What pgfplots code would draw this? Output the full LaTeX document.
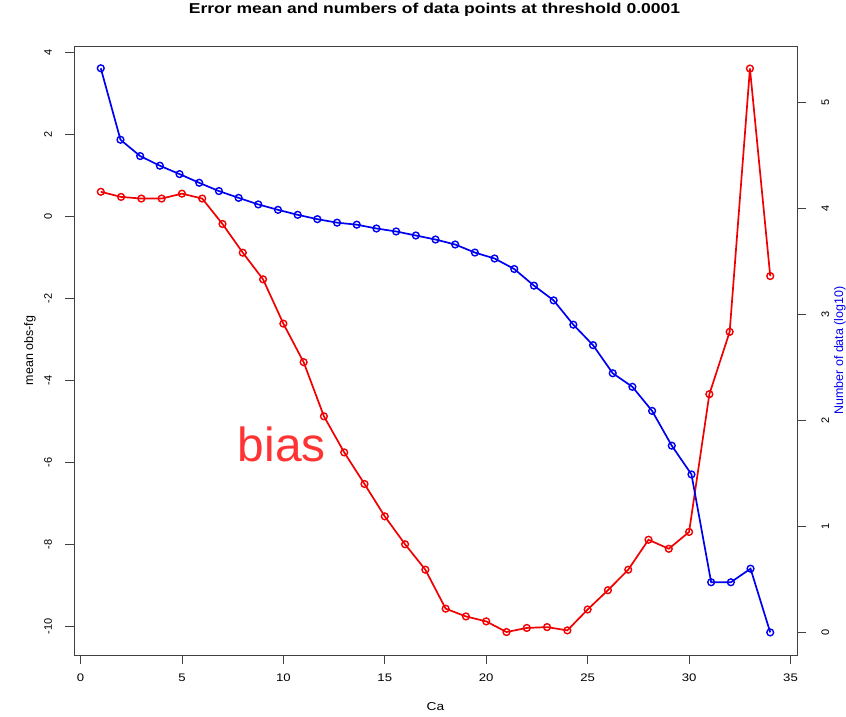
\documentclass[border=0pt]{standalone}
\usepackage{pgfplots}
\pgfplotsset{compat=1.18}
\usepackage{fontspec}
\setmainfont{Liberation Sans}
\newfontfamily\widefont{Liberation Sans}[FakeStretch=1.2]
\newfontfamily\widebold{Liberation Sans Bold}[FakeStretch=1.22]
\definecolor{rred}{HTML}{F00000}
\definecolor{bblue}{HTML}{0000F0}
\definecolor{biasred}{HTML}{FF3333}
\begin{document}
\begin{tikzpicture}
\path[use as bounding box] (-74bp,-62bp) rectangle (772bp,655bp);
\begin{axis}[
  at={(0,0)}, anchor=south west,
  scale only axis, width=723bp, height=609bp,
  xmin=-0.32, xmax=35.32, ymin=-10.7, ymax=4.15,
  xtick={0,5,...,35}, ytick={-10,-8,...,4},
  xtick pos=lower, ytick pos=left, tick align=outside,
  major tick length=9bp,
  axis line style={black!75, line width=0.8bp},
  tick style={black!75, line width=0.8bp},
  xticklabel style={font=\widefont\fontsize{11}{13}\selectfont},
  xticklabel shift=6.3bp,
  yticklabel style={rotate=90, anchor=south, font=\fontsize{11}{13}\selectfont},
  yticklabel shift=9.6bp,
  /pgf/number format/assume math mode=true,
  title={Error mean and numbers of data points at threshold 0.0001},
  title style={at={(axis description cs:0.4986,1.0438)}, anchor=base, font=\widebold\fontsize{14.4}{16}\selectfont},
  xlabel={Ca},
  xlabel style={at={(axis description cs:0.5,-0.0854)}, anchor=center, font=\widefont\fontsize{11.5}{14}\selectfont},
  ylabel={mean obs-fg},
  ylabel style={at={(axis description cs:-0.061,0.5)}, anchor=center, rotate=0, font=\fontsize{12.5}{14}\selectfont},
]
\addplot[rred, line width=1.7bp, mark=o, mark size=3.4bp, mark options={line width=1.4bp}] coordinates {
(1,0.595) (2,0.47) (3,0.43) (4,0.43) (5,0.55) (6,0.43) (7,-0.19) (8,-0.89)
(9,-1.54) (10,-2.62) (11,-3.56) (12,-4.88) (13,-5.76) (14,-6.53) (15,-7.32)
(16,-8.00) (17,-8.62) (18,-9.57) (19,-9.76) (20,-9.88) (21,-10.14) (22,-10.04)
(23,-10.02) (24,-10.10) (25,-9.59) (26,-9.12) (27,-8.62) (28,-7.89) (29,-8.11)
(30,-7.70) (31,-4.34) (32,-2.82) (33,3.60) (34,-1.46)
};
\node[text=biasred, inner sep=0pt, anchor=center, font=\fontsize{48}{50}\selectfont] at (axis cs:9.92,-5.556) {bias};
\end{axis}
\begin{axis}[
  at={(0,0)}, anchor=south west,
  scale only axis, width=723bp, height=609bp,
  xmin=-0.36, xmax=36.36, ymin=-0.213, ymax=5.53,
  axis x line=none, axis y line*=right,
  ytick={0,1,...,5}, tick align=outside,
  major tick length=9bp,
  axis line style={black!75, line width=0.8bp, -},
  tick style={black!75, line width=0.8bp},
  yticklabel style={rotate=90, anchor=north, font=\fontsize{11}{13}\selectfont},
  yticklabel shift=12bp,
  /pgf/number format/assume math mode=true,
  ylabel={Number of data (log10)},
  ylabel style={at={(axis description cs:1.0595,0.5)}, anchor=center, rotate=0, text=bblue, font=\fontsize{12.5}{14}\selectfont},
]
\addplot[bblue, line width=1.7bp, mark=o, mark size=3.4bp, mark options={line width=1.4bp}] coordinates {
(1,5.32) (2,4.646) (3,4.492) (4,4.401) (5,4.322) (6,4.240) (7,4.162) (8,4.098)
(9,4.036) (10,3.985) (11,3.938) (12,3.897) (13,3.864) (14,3.845) (15,3.809)
(16,3.781) (17,3.743) (18,3.705) (19,3.658) (20,3.582) (21,3.526) (22,3.427)
(23,3.270) (24,3.131) (25,2.902) (26,2.709) (27,2.444) (28,2.316) (29,2.089)
(30,1.761) (31,1.490) (32,0.473) (33,0.473) (34,0.601) (35,0.0)
};
\end{axis}
\end{tikzpicture}
\end{document}
